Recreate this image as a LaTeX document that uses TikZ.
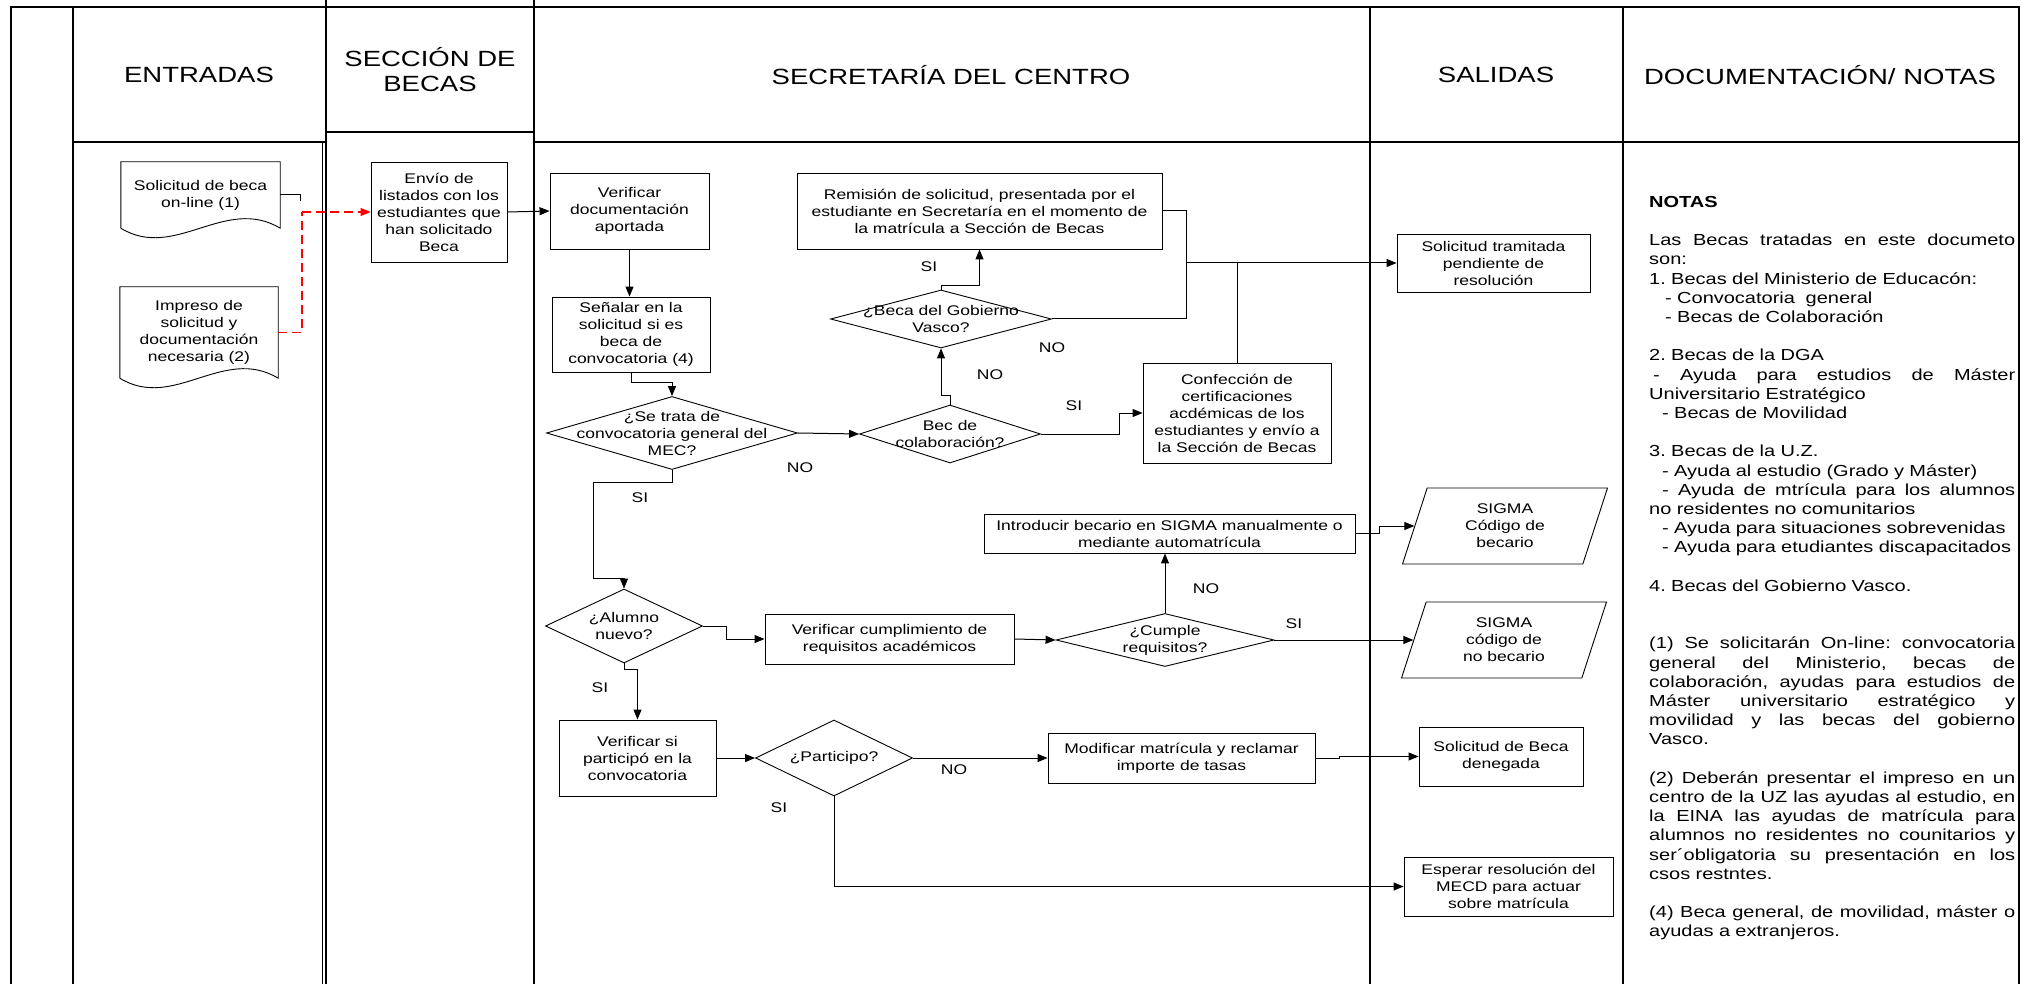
\documentclass[tikz,border=0pt]{standalone}
\usepackage{fontspec}
\setmainfont{Liberation Sans}[FakeStretch=1.25]
\usetikzlibrary{positioning,arrows.meta,shapes.geometric}
\frenchspacing
\newcommand{\boxfont}{\fontsize{14}{17}\selectfont}
\newcommand{\headfont}{\fontsize{22}{25}\selectfont}
\newcommand{\notefont}{\fontsize{16}{19.2}\selectfont}
% justified line of the notes column
\newcommand{\jline}[1]{\makebox[366pt][s]{\spaceskip=\fontdimen2\font plus 1fil\relax #1}}
% document symbol: box with a wavy bottom edge
\newcommand{\docoutline}[1]{\draw[line width=0.9pt] (#1.south west) -- (#1.north west) -- (#1.north east) -- (#1.south east) .. controls +(-55,-33) and +(54,33) .. (#1.south west);}

\tikzset{
  lane/.style={line width=1.6pt},
  box/.style={draw, line width=0.9pt, align=center, font=\boxfont, inner sep=2pt},
  docbox/.style={align=center, font=\boxfont, inner sep=2pt},
  decision/.style={draw, diamond, line width=0.9pt, inner sep=0pt},
  qtext/.style={align=center, font=\boxfont},
  io/.style={draw, trapezium, trapezium left angle=64, trapezium right angle=116, trapezium stretches body, line width=0.9pt, align=center, font=\boxfont, minimum width=205, minimum height=76},
  link/.style={line width=1pt},
  arr/.style={line width=1pt, -{Triangle[length=10pt,width=8pt]}},
  redlink/.style={red, line width=1.2pt, dash pattern=on 9pt off 5pt},
  yesno/.style={font=\boxfont}
}

\begin{document}
\begin{tikzpicture}[x=1pt,y=-1pt]
\useasboundingbox (0,0) rectangle (2024,984);

% swimlanes
\draw[lane] (11,984) -- (11,7) -- (2019,7) -- (2019,984);
\foreach \x in {73,1370,1623} \draw[lane] (\x,7) -- (\x,984);
\foreach \x in {326,534} \draw[lane] (\x,0) -- (\x,984);
\draw[line width=1pt] (322,142) -- (322,984);
\draw[line width=1.2pt] (73,142) -- (326,142) (326,132) -- (534,132) (534,142) -- (2019,142);

% headers
\node[font=\headfont] (hentr) at (199,75) {ENTRADAS};
\node[font=\headfont, align=center] (hsecc) at (430,70) {SECCIÓN DE\\BECAS};
\node[font=\headfont] (hsecr) at (951,75) {SECRETARÍA DEL CENTRO};
\node[font=\headfont] (hsal) at (1496,75) {SALIDAS};
\node[font=\headfont] (hdoc) at (1820,75) {DOCUMENTACIÓN/ NOTAS};

% entradas
\node[docbox, minimum width=159, minimum height=66] (doc1) at (200.5,195) {Solicitud de beca\\on-line (1)};
\docoutline{doc1}
\node[docbox, minimum width=158, minimum height=91] (doc2) at (199,332.5) {Impreso de\\solicitud y\\documentación\\necesaria (2)};
\docoutline{doc2}

% seccion de becas
\node[box, minimum width=136, minimum height=100] (envio) at (439,212) {Envío de\\listados con los\\estudiantes que\\han solicitado\\Beca};

% secretaria
\node[box, minimum width=159, minimum height=76] (verif) at (629.5,211) {Verificar\\documentación\\aportada};
\node[box, minimum width=158, minimum height=75] (senal) at (631,334.5) {Señalar en la\\solicitud si es\\beca de\\convocatoria (4)};
\node[decision, minimum width=251, minimum height=73, label={[qtext]center:{¿Se trata de\\convocatoria general del\\MEC?}}] (mec) at (672,433) {};
\node[decision, minimum width=181, minimum height=58, label={[qtext]center:{Bec de\\colaboración?}}] (colab) at (950,434) {};
\node[decision, minimum width=221, minimum height=58, label={[qtext]center:{¿Beca del Gobierno\\Vasco?}}] (vasco) at (941,319) {};
\node[box, minimum width=365, minimum height=76] (remision) at (979.5,211) {Remisión de solicitud, presentada por el\\estudiante en Secretaría en el momento de\\la matrícula a Sección de Becas};
\node[box, minimum width=188, minimum height=100] (confec) at (1237,413) {Confección de\\certificaciones\\acdémicas de los\\estudiantes y envío a\\la Sección de Becas};
\node[decision, minimum width=157, minimum height=74, label={[qtext]center:{¿Alumno\\nuevo?}}] (alumno) at (624,626) {};
\node[box, minimum width=249, minimum height=50] (vcumpl) at (889.5,639) {Verificar cumplimiento de\\requisitos académicos};
\node[decision, minimum width=218, minimum height=53, label={[qtext]center:{¿Cumple\\requisitos?}}] (cumple) at (1165,640) {};
\node[box, minimum width=371, minimum height=39] (intro) at (1169.5,533.5) {Introducir becario en SIGMA manualmente o\\mediante automatrícula};
\node[box, minimum width=157, minimum height=76] (vsi) at (637.5,758) {Verificar si\\participó en la\\convocatoria};
\node[decision, minimum width=157, minimum height=76, label={[qtext]center:{¿Participo?}}] (partic) at (834,758) {};
\node[box, minimum width=267, minimum height=50] (modif) at (1181.5,758) {Modificar matrícula y reclamar\\importe de tasas};

% salidas
\node[box, minimum width=193, minimum height=58] (tramit) at (1493.5,263) {Solicitud tramitada\\pendiente de\\resolución};
\node[io] (sigma1) at (1505,526) {SIGMA\\Código de\\becario};
\node[io] (sigma2) at (1504,640) {SIGMA\\código de\\no becario};
\node[box, minimum width=164, minimum height=59] (deneg) at (1501,756.5) {Solicitud de Beca\\denegada};
\node[box, minimum width=209, minimum height=59] (esperar) at (1508.5,886.5) {Esperar resolución del\\MECD para actuar\\sobre matrícula};

% connectors
\coordinate (jR) at (302,212);
\coordinate (jA) at (1186,263);
\draw[link] (doc1.east) -- ++(20,0) -- ++(0,6);
\draw[redlink] (doc2.east) -| (jR);
\draw[redlink, -{Triangle[length=10pt,width=8pt]}] (jR) -- (envio.west);
\draw[arr] (envio.east) -- (verif.west);
\draw[arr] (verif.south) -- (verif.south |- senal.north);
\draw[arr] (senal.south) -- ++(0,10) -| (mec.north);
\draw[arr] (mec.east) -- (colab.west);
\draw[arr] (colab.north) -- ++(0,-9) -| (vasco.south);
\draw[arr] (vasco.north) -- ++(0,-4) -| (remision.south);
\draw[arr] (colab.east) -- ++(79,0) |- (confec.west);
\draw[link] (vasco.east) -| (jA);
\draw[link] (remision.east) -| (jA);
\draw[link] (confec.north) -- (confec.north |- jA);
\draw[arr] (jA) -- (tramit.west);
\draw[arr] (mec.south) -- ++(0,13) -| ++(-79,96) -| (alumno.north);
\draw[arr] (alumno.east) -- ++(24,0) |- (vcumpl.west);
\draw[arr] (alumno.south) -- ++(0,6) -| (vsi.north);
\draw[arr] (vcumpl.east) -- (cumple.west);
\draw[arr] (cumple.north) -- (cumple.north |- intro.south);
\draw[arr] (cumple.east) -- (sigma2.left side);
\draw[arr] (intro.east) -- ++(24,0) |- (sigma1.left side);
\draw[arr] (vsi.east) -- (partic.west);
\draw[arr] (partic.east) -- (modif.west);
\draw[arr] (modif.east) -- ++(24,0) |- (deneg.west);
\draw[arr] (partic.south) |- (esperar.west);

% answers
\node[yesno] (noA) at (800,468) {NO};
\node[yesno] (noB) at (990,375) {NO};
\node[yesno] (siA) at (1074,406) {SI};
\node[yesno] (siB) at (929,267) {SI};
\node[yesno] (noC) at (1052,348) {NO};
\node[yesno] (siC) at (640,498) {SI};
\node[yesno] (siD) at (600,688) {SI};
\node[yesno] (noD) at (1206,589) {NO};
\node[yesno] (siE) at (1294,624) {SI};
\node[yesno] (noE) at (954,770) {NO};
\node[yesno] (siF) at (779,808) {SI};

% notes
\node[anchor=north west, align=left, text width=366pt, inner sep=0pt, font=\notefont] (notas) at (1649,196) {%
\textbf{NOTAS}\\[19.2pt]
\jline{Las Becas tratadas en este documeto}\\
son:\\
1. Becas del Ministerio de Educacón:\\
\hspace*{16pt}- Convocatoria\ \ general\\
\hspace*{16pt}- Becas de Colaboración\\[19.2pt]
2. Becas de la DGA\\
\jline{\hspace*{4pt}- Ayuda para estudios de Máster}\\
Universitario Estratégico\\
\hspace*{13pt}- Becas de Movilidad\\[19.2pt]
3. Becas de la U.Z.\\
\hspace*{13pt}- Ayuda al estudio (Grado y Máster)\\
\jline{\hspace*{13pt}- Ayuda de mtrícula para los alumnos}\\
no residentes no comunitarios\\
\hspace*{13pt}- Ayuda para situaciones sobrevenidas\\
\hspace*{13pt}- Ayuda para etudiantes discapacitados\\[19.2pt]
4. Becas del Gobierno Vasco.\\[38.4pt]
\jline{(1) Se solicitarán On-line: convocatoria}\\
\jline{general del Ministerio, becas de}\\
\jline{colaboración, ayudas para estudios de}\\
\jline{Máster universitario estratégico y}\\
\jline{movilidad y las becas del gobierno}\\
Vasco.\\[19.2pt]
\jline{(2) Deberán presentar el impreso en un}\\
\jline{centro de la UZ las ayudas al estudio, en}\\
\jline{la EINA las ayudas de matrícula para}\\
\jline{alumnos no residentes no counitarios y}\\
\jline{ser´obligatoria su presentación en los}\\
csos restntes.\\[19.2pt]
\jline{(4) Beca general, de movilidad, máster o}\\
ayudas a extranjeros.};
\end{tikzpicture}
\end{document}
